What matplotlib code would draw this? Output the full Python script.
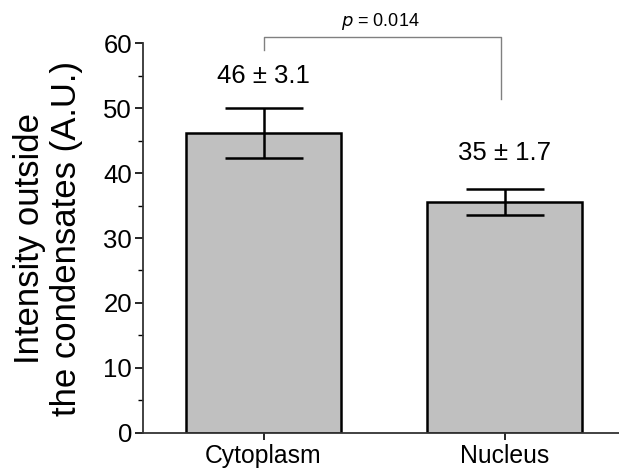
import matplotlib
matplotlib.use("Agg")
import matplotlib.pyplot as plt
from matplotlib.ticker import MultipleLocator

plt.rcParams['font.family'] = ['Liberation Sans', 'DejaVu Sans']

categories = ["Cytoplasm", "Nucleus"]
means = [46.2, 35.55]
errors = [3.85, 2.0]
value_labels = ["46 \u00b1 3.1", "35 \u00b1 1.7"]
label_y = [54.9, 43.1]
p_text = "= 0.014"
bracket_y = 61.0
bracket_legs = [58.97, 51.4]

W, H = 619, 471
fig = plt.figure(figsize=(W / 100, H / 100), dpi=100)
ax = fig.add_axes([143 / W, 38.3 / H, 482 / W, 389.4 / H])

x = list(range(len(categories)))
ax.bar(x, means, width=0.643, color="#c0c0c0", edgecolor="black", linewidth=1.8, zorder=2)
ax.errorbar(x, means, yerr=errors, fmt="none", ecolor="black", elinewidth=1.8,
            capsize=28, capthick=1.8, zorder=3)

for xi, lab, ly in zip(x, value_labels, label_y):
    ax.text(xi, ly, lab, ha="center", va="center", fontsize=18.5)

# significance bracket
ax.plot([0, 0, 0.985, 0.985], [bracket_legs[0], bracket_y, bracket_y, bracket_legs[1]],
        color="#808080", lw=1.0, clip_on=False, zorder=4)
ax.text(0.485, 63.4, r"$\it{p}$ " + p_text, ha="center", va="center", fontsize=13,
        clip_on=False)

ax.set_xlim(-0.5, 1.5)
ax.set_ylim(0, 60)
ax.set_xticks(x)
ax.set_xticklabels(categories, fontsize=17.8)
ax.yaxis.set_major_locator(MultipleLocator(10))
ax.yaxis.set_minor_locator(MultipleLocator(5))
ax.tick_params(axis="y", which="major", length=6, width=1.2, labelsize=18.5, pad=2)
ax.tick_params(axis="y", which="minor", length=3.5, width=1.0)
ax.tick_params(axis="x", which="major", length=5, width=1.2, pad=3)

for s in ["top", "right"]:
    ax.spines[s].set_visible(False)
for s in ["left", "bottom"]:
    ax.spines[s].set_linewidth(1.3)
    ax.spines[s].set_color("#333333")

fig.text(48 / W, 1 - 239 / H, "Intensity outside\nthe condensates (A.U.)", rotation=90,
         ha="center", va="center", fontsize=25, linespacing=1.15, multialignment="center")

fig.savefig("out.png", dpi=100)
